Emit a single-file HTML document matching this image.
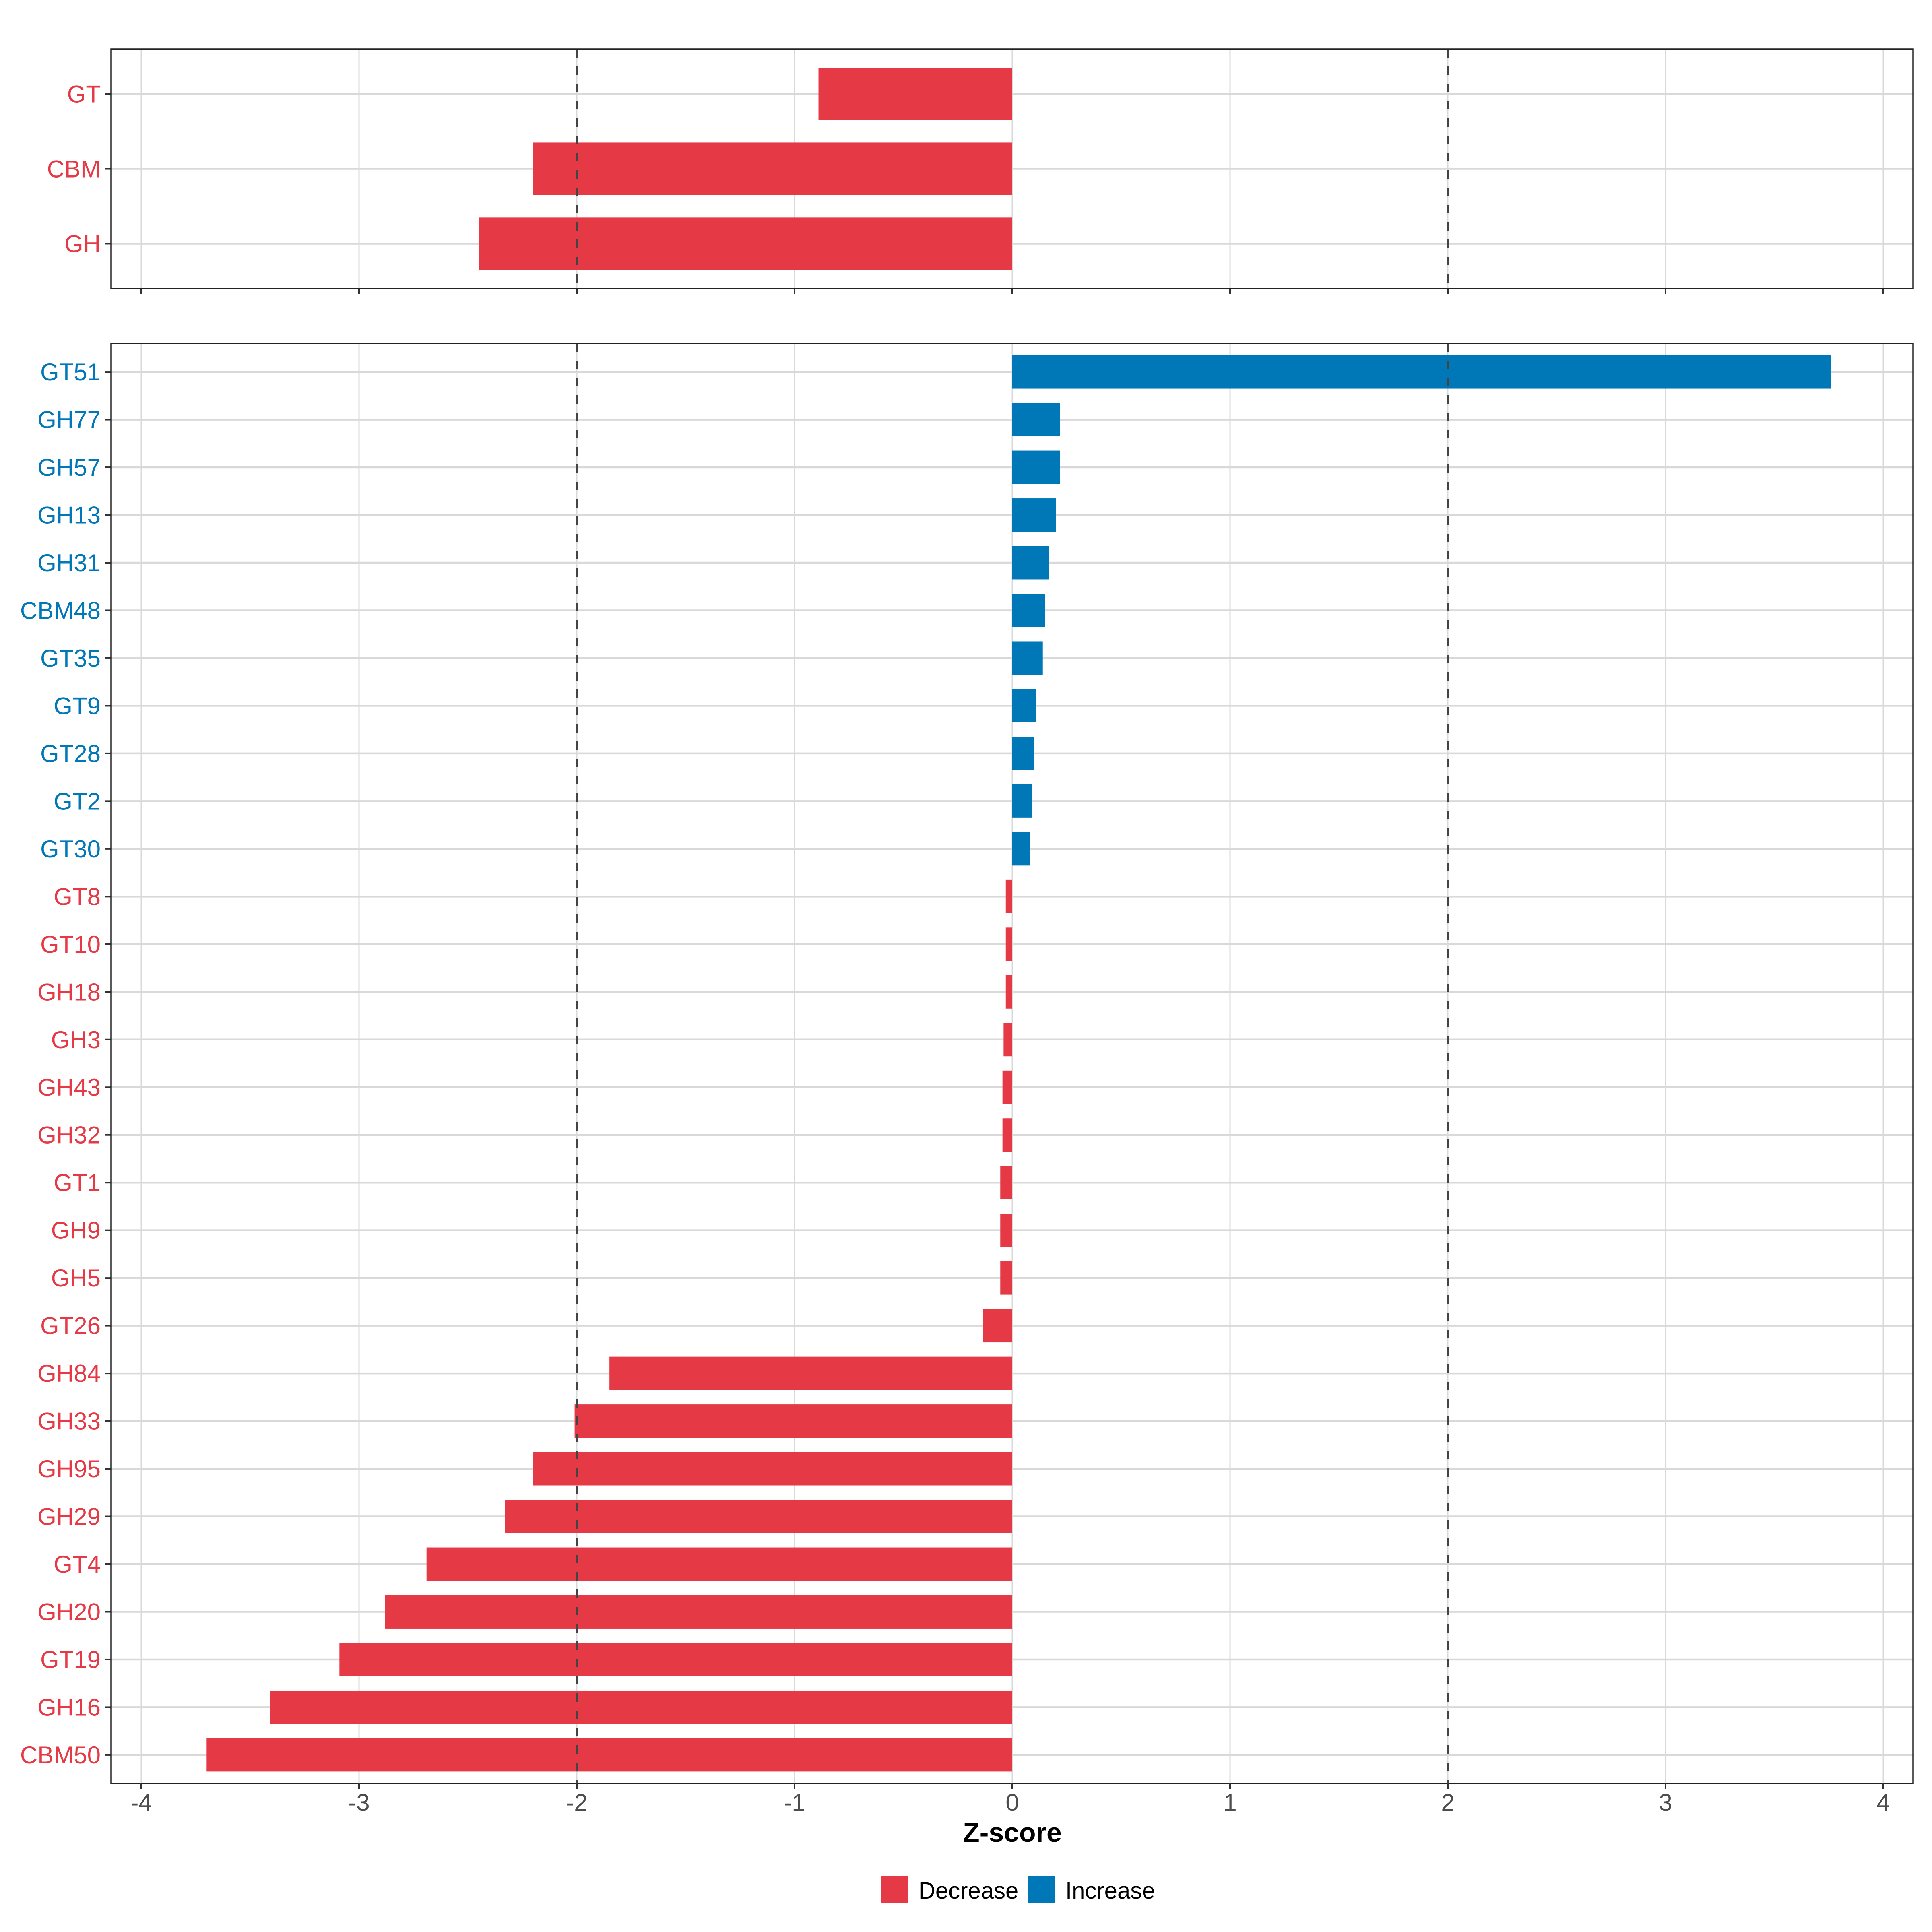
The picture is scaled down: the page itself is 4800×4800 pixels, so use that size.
<!DOCTYPE html>
<html><head><meta charset="utf-8"><style>
html,body{margin:0;padding:0;background:#fff}
svg{display:block}
text{font-family:"Liberation Sans",Arial,sans-serif}
</style></head><body>
<svg id="chart" width="4800" height="4800" viewBox="0 0 4800 4800" xmlns="http://www.w3.org/2000/svg"></svg>
<script>
const topCategories = ["GT","CBM","GH"];
const topValues = [-0.89,-2.2,-2.45];
const bottomCategories = ["GT51","GH77","GH57","GH13","GH31","CBM48","GT35","GT9","GT28","GT2","GT30","GT8","GT10","GH18","GH3","GH43","GH32","GT1","GH9","GH5","GT26","GH84","GH33","GH95","GH29","GT4","GH20","GT19","GH16","CBM50"];
const bottomValues = [3.76,0.22,0.22,0.2,0.167,0.15,0.14,0.11,0.1,0.09,0.08,-0.03,-0.03,-0.03,-0.04,-0.045,-0.045,-0.055,-0.055,-0.055,-0.135,-1.85,-2.01,-2.2,-2.33,-2.69,-2.88,-3.09,-3.41,-3.7];
const xTicks = [-4,-3,-2,-1,0,1,2,3,4];
const xTickLabels = ["-4","-3","-2","-1","0","1","2","3","4"];
const refLines = [-2,2];
const legendLabels = ["Decrease","Increase"];

const RED="#E63946", BLUE="#0077B6";
const svg=document.getElementById('chart');
const NS="http://www.w3.org/2000/svg";
const PL=276, PR=4753;
function xs(v){return 2515+v*541;}
function mk(tag,attrs,parent){const e=document.createElementNS(NS,tag);for(const k in attrs)e.setAttribute(k,attrs[k]);(parent||svg).appendChild(e);return e;}

function panel(name,cats,vals,top,bottom,showLabels){
  const g=mk('g',{});
  
  
  const n=cats.length;
  const step=(bottom-top)/(n-1+1.2);
  const ys=i=>top+step*(0.6+i);
  // vertical grid
  xTicks.forEach(t=>{
    const l=mk('line',{x1:xs(t),x2:xs(t),y1:top,y2:bottom,stroke:'#d9d9d9','stroke-width':3},g);
    
    
  });
  cats.forEach((c,i)=>{
    const y=ys(i);
    const l=mk('line',{x1:PL,x2:PR,y1:y,y2:y,stroke:'#d9d9d9','stroke-width':4.5},g);
    
    
  });
  cats.forEach((c,i)=>{
    const y=ys(i), v=vals[i], h=step*0.7;
    const col=v<0?RED:BLUE;
    const r=mk('rect',{x:Math.min(xs(0),xs(v)),y:y-h/2,width:Math.abs(xs(v)-xs(0)),height:h,fill:col},g);
    
    
    const t=mk('text',{x:250,y:y+21,'text-anchor':'end','font-size':60,fill:col},g);
    t.textContent=c;
    
    
    const tk=mk('line',{x1:262,x2:PL,y1:y,y2:y,stroke:'#333','stroke-width':4},g);
    
    
  });
  refLines.forEach(v=>{
    const l=mk('line',{x1:xs(v),x2:xs(v),y1:top,y2:bottom,stroke:'#444','stroke-width':4,'stroke-dasharray':'21 22'},g);
    
    
  });
  const b=mk('rect',{x:PL,y:top,width:PR-PL,height:bottom-top,fill:'none',stroke:'#222','stroke-width':3.5},g);
  
  
  xTicks.forEach((t,i)=>{
    const l=mk('line',{x1:xs(t),x2:xs(t),y1:bottom,y2:bottom+14,stroke:'#333','stroke-width':4},g);
    
    
    if(showLabels){
      const tx=mk('text',{x:xs(t),y:bottom+68,'text-anchor':'middle','font-size':60,fill:'#4d4d4d'},g);
      tx.textContent=xTickLabels[i];
      
      
    }
  });
}
panel('top-panel',topCategories,topValues,122,717,false);
panel('bottom-panel',bottomCategories,bottomValues,853,4431,true);

const title=mk('text',{x:xs(0),y:4576,'text-anchor':'middle','font-size':68,'font-weight':'bold',fill:'#000'});
title.textContent='Z-score';



const legendX=[2189,2554];
legendLabels.forEach((lab,i)=>{
  const k=mk('rect',{x:legendX[i],y:4662,width:66,height:67,fill:i===0?RED:BLUE});
  
  
  const t=mk('text',{x:legendX[i]+93,y:4717,'font-size':58,fill:'#000'});
  t.textContent=lab;
  
  
});
</script>
</body></html>
